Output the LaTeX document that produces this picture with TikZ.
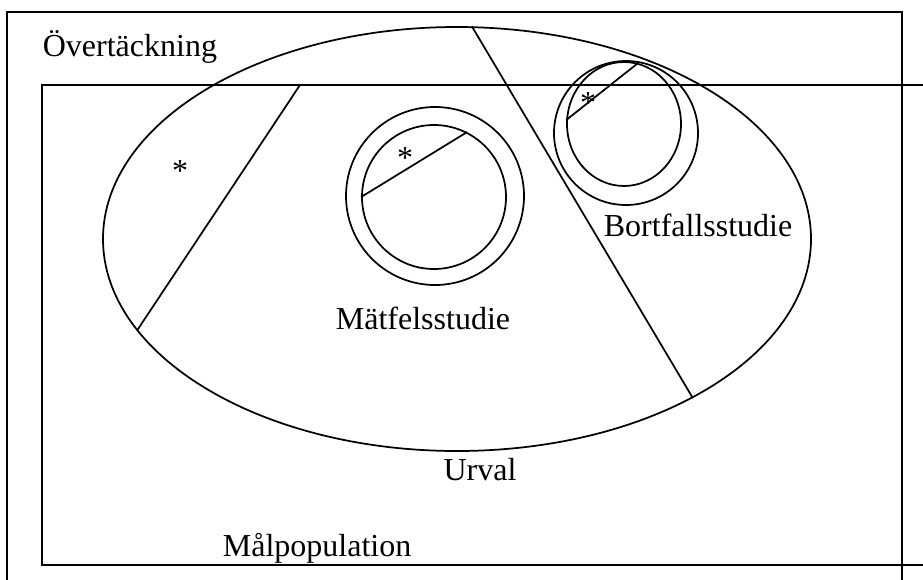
\documentclass[tikz,border=0pt]{standalone}
\usepackage{fontspec}
\setmainfont{Liberation Serif}
\usetikzlibrary{positioning,shapes.geometric}

\begin{document}
\begin{tikzpicture}[x=0.75pt,y=-0.75pt,line width=1.3pt,
    lbl/.style={font=\fontsize{24}{28}\selectfont, inner sep=0pt},
    star/.style={font=\fontsize{24}{28}\selectfont, inner sep=0pt, anchor=base},
    ring/.style={draw, circle, inner sep=0pt}]
  \useasboundingbox (0,0) rectangle (923,579);
  \clip (0,0) rectangle (923,579);

  % populations
  \draw (7,12) rectangle (902,595);
  \draw (42,85) rectangle (940,565);

  % sample
  \node[draw, ellipse, inner sep=0pt, minimum width=531pt, minimum height=318pt] (urval) at (457,239) {};

  % measurement error study
  \node[ring, minimum size=133.5pt] (matouter) at (435,196) {};
  \node[ring, minimum size=108pt] (matinner) at (434,197) {};
  \draw (matinner.180) -- (matinner.63);

  % nonresponse study
  \node[ring, minimum size=108pt] (bortouter) at (626,133) {};
  \node[draw, ellipse, inner sep=0pt, minimum width=85.5pt, minimum height=93pt] (bortinner) at (624,124) {};
  \draw (bortinner.176) -- (bortinner.77);

  % chords
  \coordinate (ltop) at (300,85);
  \draw (ltop) -- (urval.196);
  \draw (urval.86) -- (urval.326.6);

  % asterisks
  \node[star] (s1) at (180,181) {*};
  \node[star] (s2) at (405,168) {*};
  \node[star] (s3) at (588,113) {*};

  % labels
  \node[lbl, anchor=west] (over) at (42,47) {Övertäckning};
  \node[lbl, anchor=west] (bort) at (603,225) {Bortfallsstudie};
  \node[lbl] (matf) at (423,318) {Mätfelsstudie};
  \node[lbl] (urv) at (480,470) {Urval};
  \node[lbl, anchor=west] (malp) at (222,548) {Målpopulation};
\end{tikzpicture}
\end{document}
